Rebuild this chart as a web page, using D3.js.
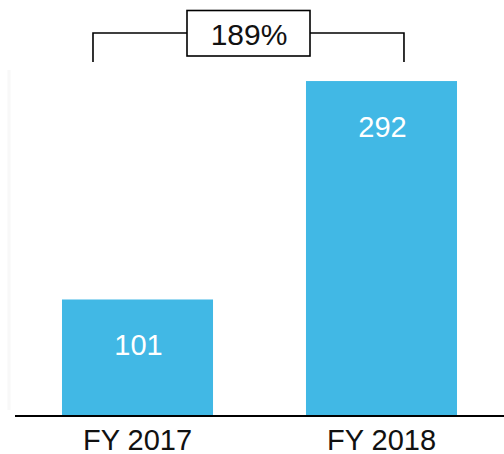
<!DOCTYPE html>
<html>
<head>
<meta charset="utf-8">
<script src="https://cdn.jsdelivr.net/npm/d3@7"></script>
<style>
  html, body { margin: 0; padding: 0; background: #fff; }
  svg { display: block; }
  text { font-family: "Liberation Sans", Arial, sans-serif; }
</style>
</head>
<body>
<svg id="chart" width="504" height="454"></svg>
<script>
const categories = ["FY 2017", "FY 2018"];
const values = [101, 292];
const growthLabel = "189%";

const W = 504, H = 454;
const svg = d3.select("#chart");

const x = d3.scaleBand()
  .domain(categories)
  .range([15, 504])
  .paddingInner(0.381)
  .paddingOuter(0.1926);

const y = d3.scaleLinear()
  .domain([0, 300])
  .range([415, 71.9]);

const barColor = "#41B8E5";

// faint left artifact line
svg.append("line")
  .attr("x1", 9).attr("x2", 9)
  .attr("y1", 70).attr("y2", 410)
  .attr("stroke", "#f8f8f8")
  .attr("stroke-width", 3);

// bars
svg.selectAll("rect.bar")
  .data(values)
  .join("rect")
  .attr("class", "bar")
  .attr("x", (d, i) => x(categories[i]))
  .attr("width", x.bandwidth())
  .attr("y", d => y(d))
  .attr("height", d => y(0) - y(d))
  .attr("fill", barColor);

// value labels
svg.selectAll("text.val")
  .data(values)
  .join("text")
  .attr("class", "val")
  .attr("x", (d, i) => x(categories[i]) + x.bandwidth() / 2 + 1)
  .attr("y", d => y(d) + 56)
  .attr("text-anchor", "middle")
  .attr("fill", "#fff")
  .attr("font-size", 29)
  .text(d => d);

// baseline axis
const axis = svg.append("g")
  .attr("transform", `translate(0,${y(0) + 1})`)
  .call(d3.axisBottom(x).tickSize(0).tickPadding(0));
axis.select(".domain")
  .attr("d", "M15,0H504")
  .attr("stroke", "#000")
  .attr("stroke-width", 1.8);
axis.selectAll(".tick text")
  .attr("font-family", "Liberation Sans, Arial, sans-serif")
  .attr("font-size", 29)
  .attr("fill", "#111")
  .attr("dy", null)
  .attr("y", 34);

// bracket
const lx = x(categories[0]) + 31;
const rx = x(categories[1]) + 98;
const bracketTop = 33, bracketBottom = 62;
const boxX0 = 187, boxX1 = 310, boxY0 = 10.5, boxY1 = 56;

svg.append("path")
  .attr("d", `M${lx},${bracketBottom}V${bracketTop}H${boxX0}`)
  .attr("fill", "none").attr("stroke", "#000").attr("stroke-width", 1.6);
svg.append("path")
  .attr("d", `M${rx},${bracketBottom}V${bracketTop}H${boxX1}`)
  .attr("fill", "none").attr("stroke", "#000").attr("stroke-width", 1.6);
svg.append("rect")
  .attr("x", boxX0).attr("y", boxY0)
  .attr("width", boxX1 - boxX0).attr("height", boxY1 - boxY0)
  .attr("fill", "#fff").attr("stroke", "#000").attr("stroke-width", 1.6);
svg.append("text")
  .attr("x", (boxX0 + boxX1) / 2 + 0.5)
  .attr("y", 45)
  .attr("text-anchor", "middle")
  .attr("font-size", 30)
  .attr("fill", "#111")
  .text(growthLabel);
</script>
</body>
</html>
